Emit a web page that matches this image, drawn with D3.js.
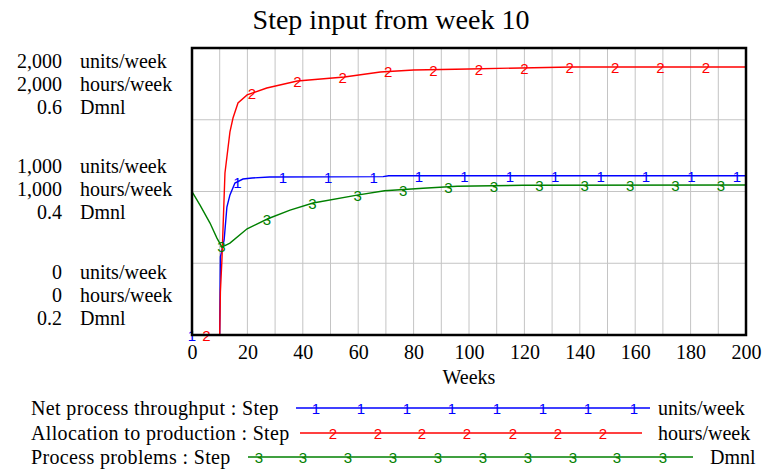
<!DOCTYPE html>
<html>
<head>
<meta charset="utf-8">
<script src="https://cdn.jsdelivr.net/npm/d3@7"></script>
<style>
  html, body { margin: 0; padding: 0; background: #fff; }
  svg { display: block; }
  text { font-family: "Liberation Serif", "Times New Roman", serif; fill: #000; }
  .mark { font-family: "Liberation Sans", Arial, sans-serif; font-size: 15px; }
</style>
</head>
<body>
<div id="chart"></div>
<script>
// --- data ---
const throughputWeeks  = [0, 10, 10.25, 10.8, 11.6, 12.6, 13.7, 15.5, 18.4, 21.7, 28, 69, 71, 200];
const throughputValues = [0, 0, 544, 592, 662, 892, 976, 1059, 1087, 1094, 1101, 1104, 1110, 1110];

const allocationWeeks  = [0, 10, 10.25, 10.8, 11.9, 13.7, 14.8, 16.6, 19.9, 27, 38, 55, 68, 80, 100, 137, 200];
const allocationValues = [0, 0, 300, 523, 1129, 1415, 1512, 1617, 1673, 1721, 1770, 1798, 1833, 1847, 1854, 1868, 1868];

const problemsWeeks  = [0, 2.9, 6.5, 9, 10.8, 13.7, 19.9, 27.4, 35.4, 43.7, 59.6, 69.5, 83.4, 95.7, 119.5, 200];
const problemsValues = [0.400, 0.381, 0.356, 0.335, 0.3226, 0.328, 0.348, 0.362, 0.374, 0.384, 0.395, 0.401, 0.4045, 0.4073, 0.4087, 0.409];

const weekTicks  = [0, 20, 40, 60, 80, 100, 120, 140, 160, 180, 200];
const unitTicks  = [0, 1000, 2000];
const hourTicks  = [0, 1000, 2000];
const dmnlTicks  = [0.2, 0.4, 0.6];

const seriesNames = ["Net process throughput : Step", "Allocation to production : Step", "Process problems : Step"];
const seriesUnits = ["units/week", "hours/week", "Dmnl"];
const seriesColors = ["#0000ff", "#ff0000", "#008000"];

// --- layout ---
const W = 762, H = 472;
const plot = { left: 192, right: 746, top: 48, bottom: 335 };

const svg = d3.select("#chart").append("svg")
  .attr("width", W).attr("height", H);

const x = d3.scaleLinear().domain([0, 200]).range([plot.left, plot.right]);
const yUnits = d3.scaleLinear().domain([0, 2000]).range([plot.bottom, plot.top]);
const yHours = d3.scaleLinear().domain([0, 2000]).range([plot.bottom, plot.top]);
const yDmnl  = d3.scaleLinear().domain([0.2, 0.6]).range([plot.bottom, plot.top]);

// title
svg.append("text")
  .attr("x", 391).attr("y", 29)
  .attr("text-anchor", "middle")
  .style("font-size", "28px")
  .text("Step input from week 10");

// grid
const grid = svg.append("g").attr("stroke", "#c4c4c4").attr("stroke-width", 1);
grid.selectAll("line.v")
  .data(d3.range(10, 200, 10))
  .join("line")
    .attr("class", "v")
    .attr("x1", d => x(d)).attr("x2", d => x(d))
    .attr("y1", plot.top).attr("y2", plot.bottom);
grid.selectAll("line.h")
  .data(d3.range(0.3, 0.6, 0.1))
  .join("line")
    .attr("class", "h")
    .attr("x1", plot.left).attr("x2", plot.right)
    .attr("y1", d => yDmnl(d)).attr("y2", d => yDmnl(d));

// x axis labels
const xAxis = svg.append("g")
  .attr("transform", `translate(0,${plot.bottom + 10})`)
  .call(d3.axisBottom(x).tickValues(weekTicks).tickSize(0).tickPadding(0).tickFormat(d3.format("d")));
xAxis.select(".domain").remove();
xAxis.selectAll("text")
  .attr("dy", "0.71em")
  .style("font-family", '"Liberation Serif", "Times New Roman", serif')
  .style("font-size", "20px")
  .attr("fill", "#000");

svg.append("text")
  .attr("x", (plot.left + plot.right) / 2).attr("y", 384)
  .attr("text-anchor", "middle")
  .style("font-size", "20px")
  .text("Weeks");

// y labels: 3 stacked lines per tick
const fmtK = d3.format(",");
const fmtD = d3.format(".1f");
const yLabels = unitTicks.map((v, i) => ({
  lines: [[fmtK(unitTicks[i]), seriesUnits[0]], [fmtK(hourTicks[i]), seriesUnits[1]], [fmtD(dmnlTicks[i]), seriesUnits[2]]],
  first: i === 0 ? yUnits(v) - 56 : (i === 1 ? yUnits(v) - 18.5 : yUnits(v) + 20)
}));
const lg = svg.append("g").style("font-size", "20px");
yLabels.forEach(g => {
  g.lines.forEach((l, j) => {
    lg.append("text").attr("x", 62).attr("y", g.first + j * 23.2)
      .attr("text-anchor", "end").text(l[0]);
    lg.append("text").attr("x", 80).attr("y", g.first + j * 23.2).text(l[1]);
  });
});

// lines
svg.append("defs").append("clipPath").attr("id", "clip")
  .append("rect")
  .attr("x", plot.left).attr("y", plot.top)
  .attr("width", plot.right - plot.left).attr("height", plot.bottom - plot.top);

const series = [
  { weeks: throughputWeeks, values: throughputValues, y: yUnits, color: seriesColors[0], label: "1", offset: 0 },
  { weeks: allocationWeeks, values: allocationValues, y: yHours, color: seriesColors[1], label: "2", offset: 14.5 },
  { weeks: problemsWeeks, values: problemsValues, y: yDmnl, color: seriesColors[2], label: "3", offset: 29.5 }
];

const markStep = 45.4;
const linesG = svg.append("g").attr("clip-path", "url(#clip)");
series.forEach(s => {
  const pts = s.weeks.map((w, i) => [w, s.values[i]]);
  linesG.append("path")
    .datum(pts)
    .attr("fill", "none")
    .attr("stroke", s.color)
    .attr("stroke-width", 1.4)
    .attr("d", d3.line().x(d => x(d[0])).y(d => s.y(d[1])));
});

// numbered markers along each line
series.forEach(s => {
  const interp = w => {
    const i = d3.bisectRight(s.weeks, w);
    if (i <= 0) return s.values[0];
    if (i >= s.weeks.length) return s.values[s.values.length - 1];
    const w0 = s.weeks[i - 1], w1 = s.weeks[i];
    const t = (w - w0) / (w1 - w0);
    return s.values[i - 1] + t * (s.values[i] - s.values[i - 1]);
  };
  const marks = d3.range(plot.left + s.offset, plot.right, markStep).map(px => x.invert(px));
  svg.append("g").selectAll("text")
    .data(marks)
    .join("text")
      .attr("class", "mark")
      .attr("x", d => x(d))
      .attr("y", d => s.y(interp(d)) + 6)
      .attr("text-anchor", "middle")
      .style("fill", s.color)
      .text(s.label);
});

// frame
svg.append("rect")
  .attr("x", plot.left).attr("y", plot.top)
  .attr("width", plot.right - plot.left).attr("height", plot.bottom - plot.top)
  .attr("fill", "none").attr("stroke", "#000").attr("stroke-width", 2.5);

// legend
const legendRows = [
  { y: 408, lineFrom: 296, lineTo: 650, unitX: 658, marks: [316, 361, 407, 452, 497, 543, 588, 634] },
  { y: 433, lineFrom: 300, lineTo: 642, unitX: 658, marks: [333, 378, 422, 467, 513, 558, 603] },
  { y: 457, lineFrom: 248, lineTo: 693, unitX: 710, marks: [259, 303, 348, 393, 438, 483, 528, 573, 617, 663] }
];
const legend = svg.append("g");
legendRows.forEach((r, i) => {
  legend.append("text").attr("x", 31).attr("y", r.y + 7)
    .style("font-size", "20px").style("letter-spacing", "0.35px").text(seriesNames[i]);
  legend.append("line")
    .attr("x1", r.lineFrom).attr("x2", r.lineTo)
    .attr("y1", r.y).attr("y2", r.y)
    .attr("stroke", seriesColors[i]).attr("stroke-width", 1.4);
  legend.selectAll(null).data(r.marks).join("text")
    .attr("class", "mark")
    .attr("x", d => d).attr("y", r.y + 6)
    .attr("text-anchor", "middle")
    .style("fill", seriesColors[i])
    .text(series[i].label);
  legend.append("text").attr("x", r.unitX).attr("y", r.y + 7)
    .style("font-size", "20px").text(seriesUnits[i]);
});
</script>
</body>
</html>
